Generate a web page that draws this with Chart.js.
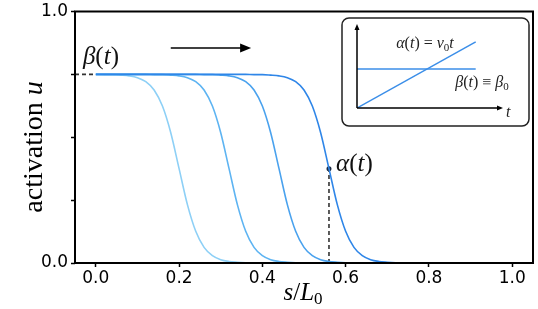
<!DOCTYPE html>
<html>
<head>
<meta charset="utf-8">
<script src="https://cdn.jsdelivr.net/npm/chart.js@4.4.1/dist/chart.umd.min.js"></script>
<style>
  html, body { margin: 0; padding: 0; background: #fff; }
  #wrap { position: relative; width: 538px; height: 309px; }
  #main { position: absolute; left: 0; top: 0; }
  #inset { position: absolute; left: 340px; top: 16px; }
</style>
</head>
<body>
<div id="wrap">
  <canvas id="main" width="538" height="309"></canvas>
  <canvas id="inset" width="192" height="112"></canvas>
</div>
<script>
// positions along the domain, s/L0
const s = [0.00, 0.02, 0.04, 0.06, 0.08, 0.10, 0.12, 0.14, 0.16, 0.18,
           0.20, 0.22, 0.24, 0.26, 0.28, 0.30, 0.32, 0.34, 0.36, 0.38,
           0.40, 0.42, 0.44, 0.46, 0.48, 0.50, 0.52, 0.54, 0.56, 0.58,
           0.60, 0.62, 0.64, 0.66, 0.68, 0.70, 0.72, 0.74, 0.76, 0.78,
           0.80, 0.82, 0.84, 0.86, 0.88, 0.90, 0.92, 0.94, 0.96, 0.98, 1.00];

// activation profiles, one per time step
const u1 = [0.75, 0.749, 0.749, 0.747, 0.744, 0.737, 0.721, 0.688, 0.624, 0.518,
            0.375, 0.232, 0.126, 0.062, 0.029, 0.013, 0.006, 0.003, 0.001, 0,
            0, 0, 0, 0, 0, 0, 0, 0, 0, 0,
            0, 0, 0, 0, 0, 0, 0, 0, 0, 0,
            0, 0, 0, 0, 0, 0, 0, 0, 0, 0, 0];
const u2 = [0.75, 0.75, 0.75, 0.75, 0.75, 0.75, 0.75, 0.749, 0.749, 0.747,
            0.744, 0.737, 0.721, 0.688, 0.624, 0.518, 0.375, 0.232, 0.126, 0.062,
            0.029, 0.013, 0.006, 0.003, 0.001, 0, 0, 0, 0, 0,
            0, 0, 0, 0, 0, 0, 0, 0, 0, 0,
            0, 0, 0, 0, 0, 0, 0, 0, 0, 0, 0];
const u3 = [0.75, 0.75, 0.75, 0.75, 0.75, 0.75, 0.75, 0.75, 0.75, 0.75,
            0.75, 0.75, 0.75, 0.749, 0.749, 0.747, 0.744, 0.737, 0.721, 0.688,
            0.624, 0.518, 0.375, 0.232, 0.126, 0.062, 0.029, 0.013, 0.006, 0.003,
            0.001, 0, 0, 0, 0, 0, 0, 0, 0, 0,
            0, 0, 0, 0, 0, 0, 0, 0, 0, 0, 0];
const u4 = [0.75, 0.75, 0.75, 0.75, 0.75, 0.75, 0.75, 0.75, 0.75, 0.75,
            0.75, 0.75, 0.75, 0.75, 0.75, 0.75, 0.75, 0.75, 0.75, 0.749,
            0.749, 0.747, 0.744, 0.737, 0.721, 0.688, 0.624, 0.518, 0.375, 0.232,
            0.126, 0.062, 0.029, 0.013, 0.006, 0.003, 0.001, 0, 0, 0,
            0, 0, 0, 0, 0, 0, 0, 0, 0, 0, 0];

const beta0 = 0.75;      // plateau level
const alphaS = 0.56;     // front position of the last profile
const alphaU = 0.375;    // activation at the front

const xTicks = [0.0, 0.2, 0.4, 0.6, 0.8, 1.0];
const yTicks = [0.0, 0.25, 0.5, 0.75, 1.0];
const yLabelled = [0.0, 1.0];

// inset: alpha(t) grows linearly, beta stays constant
const tInset = [0, 1];
const alphaInset = [0, 1];
const betaInset = [0.59, 0.59];

const colors = ['#8ed0f6', '#5eb4f2', '#4aa2ee', '#2f86e8'];
const serif = '"Liberation Serif", serif';

function drawParts(ctx, parts, x, y, align) {
    let w = 0;
    parts.forEach(p => { ctx.font = p[1]; w += ctx.measureText(p[0]).width; });
    let cx = align === 'center' ? x - w / 2 : x;
    ctx.textAlign = 'left';
    ctx.textBaseline = 'alphabetic';
    parts.forEach(p => {
        ctx.font = p[1];
        ctx.fillText(p[0], cx, y + (p[2] || 0));
        cx += ctx.measureText(p[0]).width;
    });
}

function arrowHead(ctx, x, y, dx, dy, len, half) {
    const nx = -dy, ny = dx;
    ctx.beginPath();
    ctx.moveTo(x, y);
    ctx.lineTo(x - dx * len + nx * half, y - dy * len + ny * half);
    ctx.lineTo(x - dx * len - nx * half, y - dy * len - ny * half);
    ctx.closePath();
    ctx.fill();
}

const pts = arr => s.map((v, i) => ({ x: v, y: arr[i] }));

const mainDeco = {
    id: 'mainDeco',
    afterDatasetsDraw(chart) {
        const ctx = chart.ctx;
        const a = chart.chartArea;
        const xs = chart.scales.x, ys = chart.scales.y;
        ctx.save();
        // frame
        ctx.strokeStyle = '#000';
        ctx.lineWidth = 2;
        ctx.strokeRect(a.left, a.top, a.right - a.left, a.bottom - a.top);

        // direction arrow
        const y0 = ys.getPixelForValue(0.855);
        const x0 = xs.getPixelForValue(0.18), x1 = xs.getPixelForValue(0.373);
        ctx.lineWidth = 1.5;
        ctx.beginPath();
        ctx.moveTo(x0, y0);
        ctx.lineTo(x1 - 6, y0);
        ctx.stroke();
        ctx.fillStyle = '#000';
        arrowHead(ctx, x1, y0, 1, 0, 11, 4.5);

        // annotations
        const m = '25px ' + serif, mi = 'italic 25px ' + serif;
        ctx.fillStyle = '#111';
        drawParts(ctx, [['β', mi], ['(', m], ['t', mi], [')', m]],
            xs.getPixelForValue(-0.031), ys.getPixelForValue(0.79), 'left');
        drawParts(ctx, [['α', mi], ['(', m], ['t', mi], [')', m]],
            xs.getPixelForValue(0.577), ys.getPixelForValue(0.365), 'left');

        // axis titles
        ctx.fillStyle = '#000';
        drawParts(ctx, [['s', 'italic 25px ' + serif], ['/', '25px ' + serif], ['L', 'italic 25px ' + serif], ['0', '17px ' + serif, 4]],
            (a.left + a.right) / 2 - 1, 300, 'center');
        ctx.save();
        ctx.translate(42, 147);
        ctx.rotate(-Math.PI / 2);
        drawParts(ctx, [['activation ', '28px ' + serif], ['u', 'italic 28px ' + serif]], 0, 0, 'center');
        ctx.restore();
        ctx.restore();
    }
};

new Chart(document.getElementById('main'), {
    type: 'line',
    data: {
        datasets: [
            { data: pts(u4), borderColor: colors[3] },
            { data: pts(u3), borderColor: colors[2] },
            { data: pts(u2), borderColor: colors[1] },
            { data: pts(u1), borderColor: colors[0] },
            { data: [{ x: -0.05, y: beta0 }, { x: 0, y: beta0 }], borderColor: '#333', borderDash: [4, 3], cubicInterpolationMode: 'default', tension: 0 },
            { data: [{ x: alphaS, y: 0 }, { x: alphaS, y: alphaU }], borderColor: '#333', borderDash: [4, 3], cubicInterpolationMode: 'default', tension: 0 },
            { data: [{ x: alphaS, y: alphaU }], pointRadius: 2.5, pointBackgroundColor: '#1b2b45', pointBorderWidth: 0, showLine: false }
        ]
    },
    options: {
        responsive: false,
        animation: false,
        layout: { padding: { top: 8, right: 5, left: 0, bottom: 0 } },
        elements: {
            line: { borderWidth: 1.6, cubicInterpolationMode: 'monotone', fill: false },
            point: { radius: 0 }
        },
        plugins: { legend: { display: false }, tooltip: { enabled: false } },
        scales: {
            x: {
                type: 'linear', min: -0.05, max: 1.05,
                afterBuildTicks: sc => { sc.ticks = xTicks.map(v => ({ value: v })); },
                afterFit: sc => { sc.height = 46; },
                border: { display: false },
                grid: { drawOnChartArea: false, tickLength: 4, tickWidth: 1.5, tickColor: '#000' },
                ticks: {
                    color: '#000', padding: 3, maxRotation: 0, autoSkip: false,
                    font: { family: 'DejaVu Sans', size: 17, lineHeight: 1 },
                    callback: v => v.toFixed(1)
                }
            },
            y: {
                type: 'linear', min: 0, max: 1,
                afterBuildTicks: sc => { sc.ticks = yTicks.map(v => ({ value: v })); },
                afterFit: sc => { sc.width = 75; },
                border: { display: false },
                grid: { drawOnChartArea: false, tickLength: 4, tickWidth: 1.5, tickColor: '#000' },
                ticks: {
                    color: '#000', padding: 3,
                    font: { family: 'DejaVu Sans', size: 17, lineHeight: 1 },
                    callback: v => yLabelled.includes(v) ? v.toFixed(1) : ''
                }
            }
        }
    },
    plugins: [mainDeco]
});

const insetDeco = {
    id: 'insetDeco',
    beforeDraw(chart) {
        const ctx = chart.ctx;
        ctx.save();
        ctx.fillStyle = '#fff';
        ctx.strokeStyle = '#222';
        ctx.lineWidth = 1.5;
        ctx.beginPath();
        ctx.roundRect(2, 2, 187, 108, 7);
        ctx.fill();
        ctx.stroke();
        ctx.restore();
    },
    afterDraw(chart) {
        const ctx = chart.ctx;
        const a = chart.chartArea;
        ctx.save();
        ctx.strokeStyle = '#000';
        ctx.fillStyle = '#000';
        ctx.lineWidth = 1.5;
        ctx.beginPath();
        ctx.moveTo(a.left, a.bottom);
        ctx.lineTo(a.left, a.top + 4);
        ctx.moveTo(a.left, a.bottom);
        ctx.lineTo(a.right - 4, a.bottom);
        ctx.stroke();
        arrowHead(ctx, a.left, a.top, 0, -1, 6, 2.5);
        arrowHead(ctx, a.right, a.bottom, 1, 0, 6, 2.5);

        ctx.fillStyle = '#222';
        const f = '16px ' + serif, fi = 'italic 16px ' + serif, fs = '11px ' + serif;
        drawParts(ctx, [['α', fi], ['(', f], ['t', fi], [')', f], [' = ', f], ['v', fi], ['0', fs, 3], ['t', fi]], 85, 32, 'center');
        drawParts(ctx, [['β', fi], ['(', f], ['t', fi], [')', f], [' ≡ ', f], ['β', fi], ['0', fs, 3]], 142, 71, 'center');
        drawParts(ctx, [['t', fi]], a.right + 3, a.bottom + 9, 'left');
        ctx.restore();
    }
};

new Chart(document.getElementById('inset'), {
    type: 'line',
    data: {
        datasets: [
            { data: tInset.map((t, i) => ({ x: t, y: alphaInset[i] })), borderColor: '#3b8ee8' },
            { data: tInset.map((t, i) => ({ x: t, y: betaInset[i] })), borderColor: '#3b8ee8' }
        ]
    },
    options: {
        responsive: false,
        animation: false,
        layout: { padding: { left: 17, top: 8, right: 29, bottom: 20 } },
        elements: { line: { borderWidth: 1.5, tension: 0 }, point: { radius: 0 } },
        plugins: { legend: { display: false }, tooltip: { enabled: false } },
        scales: {
            x: { type: 'linear', display: false, min: 0, max: 1.23 },
            y: { type: 'linear', display: false, min: 0, max: 1.27 }
        }
    },
    plugins: [insetDeco]
});
</script>
</body>
</html>
